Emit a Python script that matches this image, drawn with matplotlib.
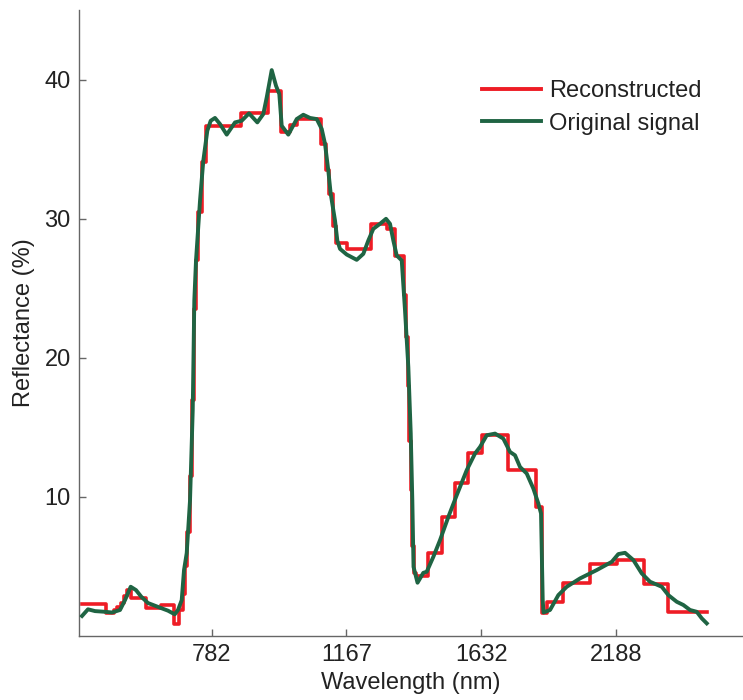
import matplotlib
matplotlib.use("Agg")
import matplotlib.pyplot as plt
import numpy as np

plt.rcParams['font.family'] = ['Liberation Sans', 'DejaVu Sans']

# Band-index positions and tick labels (wavelength in nm)
tick_bands = [50, 100, 150, 200]
tick_labels = ['782', '1167', '1632', '2188']
y_ticks = [10, 20, 30, 40]

# Original signal (band index, reflectance %)
orig_band = [1.86, 4.08, 6.68, 10.39, 12.99, 15.96, 17.82, 19.93, 21.9, 23.87, 26.35, 31.18,
             33.78, 36.27, 37.49, 38.86, 39.72, 40.72, 41.95, 42.95, 43.54, 44.17, 45.66, 46.88,
             48.37, 49.63, 51.22, 53.08, 55.57, 58.65, 61.14, 63.85, 66.93, 69.15, 70.42, 72.27,
             73.87, 75.09, 75.98, 78.43, 81.55, 84.0, 86.49, 88.98, 90.83, 92.06, 93.28, 94.17,
             95.77, 96.62, 97.62, 100.11, 103.82, 106.27, 108.13, 109.99, 112.47, 114.70, 116.18,
             117.41, 118.67, 120.53, 121.75, 122.98, 123.87, 124.46, 124.91, 126.39, 128.54,
             129.81, 132.26, 134.74, 137.83, 140.94, 144.65, 147.74, 149.59, 152.08, 155.16,
             158.24, 160.73, 162.58, 164.44, 166.92, 169.38, 171.23, 172.23, 172.86, 173.16,
             175.58, 178.66, 181.78, 186.71, 192.91, 198.48, 200.93, 203.41, 206.5, 209.61,
             212.69, 217.04, 219.49, 222.61, 225.05, 227.54, 230.03, 231.89, 233.74]
orig_refl = [1.44, 1.92, 1.79, 1.74, 1.69, 1.87, 2.58, 3.54, 3.30, 2.82, 2.37, 2.01,
             1.82, 1.56, 1.87, 2.58, 4.74, 5.96, 9.76, 16.22, 24.12, 26.99, 31.30, 34.17,
             36.32, 37.04, 37.24, 36.80, 36.04, 36.92, 37.04, 37.57, 36.92, 37.52, 38.72, 40.68,
             39.55, 38.96, 36.68, 36.04, 37.16, 37.47, 37.24, 37.16, 36.45, 35.37, 33.45, 31.78,
             29.86, 28.43, 27.83, 27.42, 27.04, 27.47, 28.43, 29.27, 29.63, 29.99, 29.63,
             28.43, 27.35, 27.0, 23.40, 19.33, 14.57, 9.76, 4.97, 3.83, 4.54,
             4.62, 5.69, 6.89, 8.56, 10.12, 11.92, 13.12, 13.59, 14.43, 14.55,
             14.19, 13.23, 12.99, 12.15, 11.68, 10.60, 9.53, 8.81, 2.58, 1.69,
             1.87, 2.94, 3.54, 4.14, 4.74, 5.33, 5.89, 5.98, 5.46, 4.50,
             3.90, 3.54, 2.94, 2.46, 2.23, 1.87, 1.74, 1.27, 0.91]

# Reconstructed signal: piecewise-constant levels starting at each edge
rec_edges = [1.9, 10.6, 13.6, 15.0, 16.3, 17.5, 18.5, 20.0, 25.5, 31.0, 36.0, 37.7, 39.3,
             40.2, 41.0, 41.9, 42.6, 43.3, 44.0, 45.0, 46.3, 47.8, 61.0, 70.8, 75.6, 79.2,
             81.5, 90.5, 92.4, 93.6, 95.2, 96.3, 100.1, 109.3, 115.0, 118.2, 121.2, 122.0,
             122.7, 123.4, 124.0, 124.5, 125.0, 125.7, 130.3, 135.3, 140.3, 145.3, 150.5,
             159.8, 170.3, 172.6, 174.5, 180.5, 190.5, 200.6, 210.5, 219.4, 233.7]
rec_levels = [2.28, 1.63, 1.85, 2.05, 2.4, 2.9, 3.3, 2.71, 1.99, 2.23, 0.83, 1.9, 3.0,
              5.0, 7.5, 11.5, 17.0, 23.5, 27.0, 30.5, 34.05, 36.68, 37.57, 39.15, 36.2, 36.7,
              37.16, 35.37, 33.5, 31.78, 29.5, 28.23, 27.83, 29.63, 29.27, 27.35, 24.5, 21.5,
              18.0, 14.0, 10.5, 6.5, 4.5, 4.31, 5.98, 8.56, 11.0, 13.12, 14.43,
              11.92, 9.24, 1.67, 2.46, 3.83, 5.15, 5.46, 3.73, 1.74, 1.74]

W, H = 743, 700
fig = plt.figure(figsize=(W / 100, H / 100), dpi=100)
ax = fig.add_axes([79 / W, 64 / H, 664 / W, 626 / H])

red = '#ee1c25'
green = '#1f6443'
ax.plot(rec_edges, rec_levels, drawstyle='steps-post', color=red, lw=2.6,
        label='Reconstructed', zorder=2)
ax.plot(orig_band, orig_refl, color=green, lw=2.8, label='Original signal', zorder=3)

ax.set_xlim(0.74, 247.2)
ax.set_ylim(0, 45)
ax.set_xticks(tick_bands)
ax.set_xticklabels(tick_labels)
ax.set_yticks(y_ticks)

for s in ['top', 'right']:
    ax.spines[s].set_visible(False)
for s in ['left', 'bottom']:
    ax.spines[s].set_color('#666666')
    ax.spines[s].set_linewidth(1.0)

ax.tick_params(direction='in', length=5, width=1, color='#666666',
               labelsize=17, labelcolor='#222222', pad=6)
ax.set_xlabel('Wavelength (nm)', fontsize=17, color='#222222', labelpad=4)
ax.set_ylabel('Reflectance (%)', fontsize=17, color='#222222', labelpad=7)

leg = ax.legend(loc='upper left', bbox_to_anchor=(482 / W, 1 - 80 / H),
                bbox_transform=fig.transFigure, frameon=False, fontsize=17,
                handlelength=2.5, handletextpad=0.35, borderpad=0, borderaxespad=0,
                labelspacing=0.45)
for t in leg.get_texts():
    t.set_color('#222222')
for l in leg.get_lines():
    l.set_linewidth(2.8)

fig.savefig('out.png', dpi=100)
